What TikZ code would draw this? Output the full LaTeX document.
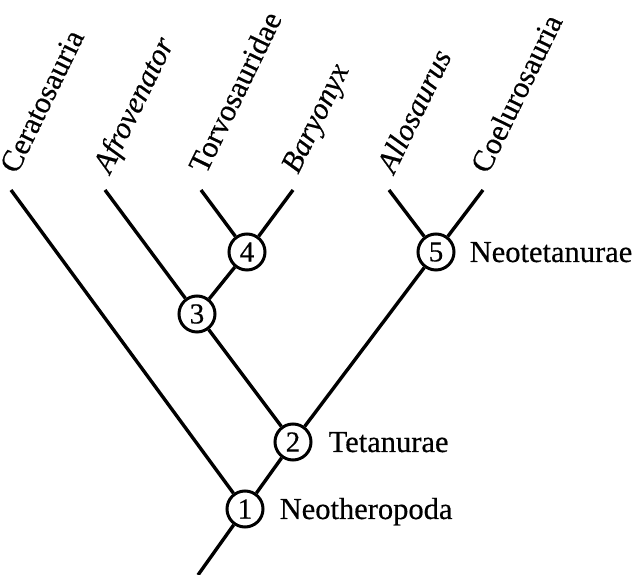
\documentclass[tikz,border=0pt]{standalone}
\usepackage{fontspec}
\setmainfont{Liberation Serif}[FakeBold=0.5]
\usetikzlibrary{positioning,calc}
\tikzset{
  clade/.style={circle,draw,line width=3pt,inner sep=0pt,minimum size=36pt,font=\fontsize{29}{32}\selectfont},
  branch/.style={line width=3.4pt},
  taxon/.style={anchor=base west,rotate=64,inner sep=0pt,font=\fontsize{30.5}{36}\selectfont},
  grp/.style={inner sep=0pt,font=\fontsize{30.5}{36}\selectfont}
}
\begin{document}
\begin{tikzpicture}[x=1pt,y=1pt,on grid]
  \useasboundingbox (0,0) rectangle (635,575);

  % clade circles
  \node[clade] (n1) at (245,66) {1};
  \node[clade, above right=67pt and 48pt of n1] (n2) {2};
  \node[clade, above left=128pt and 96pt of n2] (n3) {3};
  \node[clade, above right=62pt and 50pt of n3] (n4) {4};
  \node[clade, above right=190pt and 143pt of n2] (n5) {5};

  % branch ends
  \coordinate[below left=66pt and 47pt of n1] (root);
  \coordinate[above left=319pt and 234pt of n1] (cerato tip);
  \coordinate[above left=124pt and 92pt of n3] (afro tip);
  \coordinate[above left=62pt and 46pt of n4] (torvo tip);
  \coordinate[above right=62pt and 46pt of n4] (bary tip);
  \coordinate[above left=62pt and 47pt of n5] (allo tip);
  \coordinate[above right=62pt and 47pt of n5] (coelu tip);

  \draw[branch] (root) -- (n1);
  \draw[branch] (n1) -- (cerato tip);
  \draw[branch] (n1) -- (n2);
  \draw[branch] (n2) -- (n3);
  \draw[branch] (n2) -- (n5);
  \draw[branch] (n3) -- (afro tip);
  \draw[branch] (n3) -- (n4);
  \draw[branch] (n4) -- (torvo tip);
  \draw[branch] (n4) -- (bary tip);
  \draw[branch] (n5) -- (allo tip);
  \draw[branch] (n5) -- (coelu tip);

  % taxon names
  \node[taxon] (cerato) at ($(cerato tip)+(6,15)$) {Ceratosauria};
  \node[taxon] (afro) at ($(afro tip)+(5,15)$) {\itshape Afrovenator};
  \node[taxon] (torvo) at ($(torvo tip)+(5,15)$) {Torvosauridae};
  \node[taxon] (bary) at ($(bary tip)+(5,15)$) {\itshape Baryonyx};
  \node[taxon] (allo) at ($(allo tip)+(5,15)$) {\itshape Allosaurus};
  \node[taxon] (coelu) at ($(coelu tip)+(5,15)$) {Coelurosauria};

  % clade names
  \node[grp, right=15pt of n1.east, anchor=base west, yshift=-10pt] (neoth) {Neotheropoda};
  \node[grp, right=16pt of n2.east, anchor=base west, yshift=-10pt] (tetan) {Tetanurae};
  \node[grp, right=14pt of n5.east, anchor=base west, yshift=-10pt] (neotet) {Neotetanurae};
\end{tikzpicture}
\end{document}
